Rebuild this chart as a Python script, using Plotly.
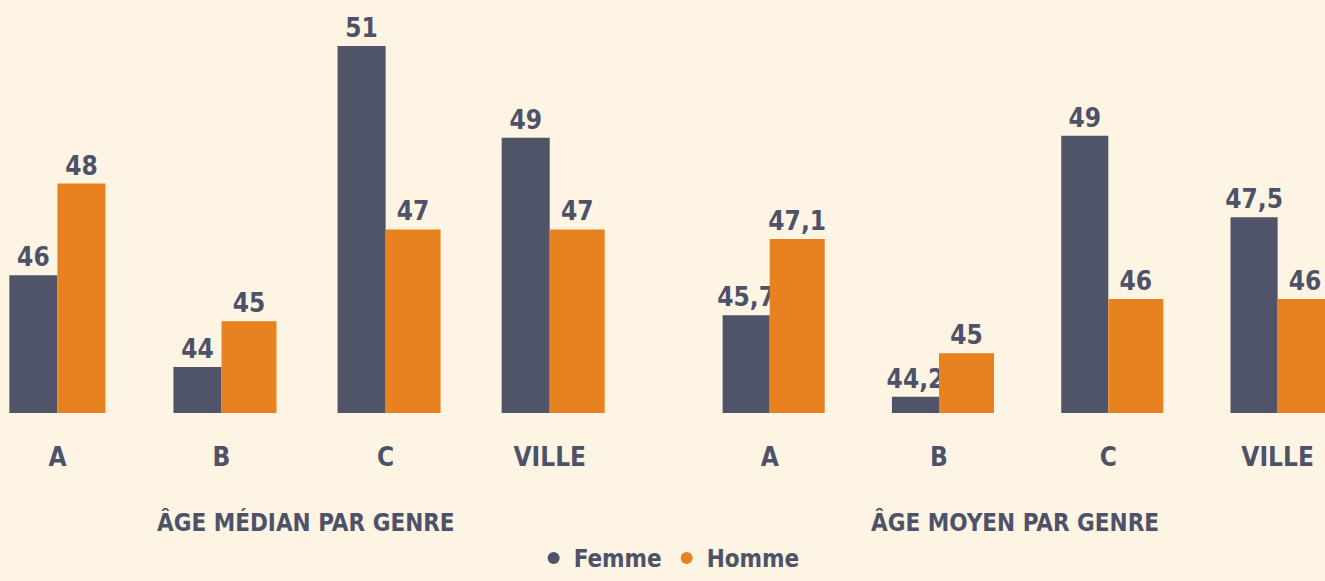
import plotly.graph_objects as go

categories = ["A", "B", "C", "VILLE"]
median_femme = [46, 44, 51, 49]
median_homme = [48, 45, 47, 47]
moyen_femme = [45.7, 44.2, 49, 47.5]
moyen_homme = [47.1, 45, 46, 46]
series_names = ["Femme", "Homme"]
subtitles = ["ÂGE MÉDIAN PAR GENRE", "ÂGE MOYEN PAR GENRE"]

BG = "#fdf4e3"
TXT = "#4d5269"
C_F = "#4f5469"
C_H = "#e8811f"
FONT = "DejaVu Sans Condensed, Liberation Sans Narrow, Arial Narrow, sans-serif"


def fmt(v):
    return f"{v:g}".replace(".", ",")


fig = go.Figure()

label_font = dict(family=FONT, size=26, color=TXT, weight="bold")

# left chart
fig.add_trace(go.Bar(x=categories, y=median_femme, text=[fmt(v) for v in median_femme],
                     marker_color=C_F, marker_line_width=0, offset=-0.293, width=0.293,
                     textposition="outside", textfont=label_font, constraintext="none",
                     cliponaxis=False, showlegend=False, xaxis="x", yaxis="y", hoverinfo="x+y"))
fig.add_trace(go.Bar(x=categories, y=median_homme, text=[fmt(v) for v in median_homme],
                     marker_color=C_H, marker_line_width=0, offset=0, width=[0.293, 0.335, 0.335, 0.335],
                     textposition="outside", textfont=label_font, constraintext="none",
                     cliponaxis=False, showlegend=False, xaxis="x", yaxis="y", hoverinfo="x+y"))
# right chart
fig.add_trace(go.Bar(x=categories, y=moyen_femme, text=[fmt(v) for v in moyen_femme],
                     marker_color=C_F, marker_line_width=0, offset=-0.278, width=0.278,
                     textposition="outside", textfont=label_font, constraintext="none",
                     cliponaxis=False, showlegend=False, xaxis="x2", yaxis="y2", hoverinfo="x+y"))
fig.add_trace(go.Bar(x=categories, y=moyen_homme, text=[fmt(v) for v in moyen_homme],
                     marker_color=C_H, marker_line_width=0, offset=0, width=0.325,
                     textposition="outside", textfont=label_font, constraintext="none",
                     cliponaxis=False, showlegend=False, xaxis="x2", yaxis="y2", hoverinfo="x+y"))

# legend entries (circle symbols)
for name, col in zip(series_names, [C_F, C_H]):
    fig.add_trace(go.Scatter(x=[None], y=[None], mode="markers", name=name,
                             marker=dict(color=col, size=15, symbol="circle"),
                             xaxis="x", yaxis="y"))

tick_font = dict(family=FONT, size=26, color=TXT, weight="bold")
axis_common = dict(type="category", showgrid=False, zeroline=False, showline=False,
                   ticks="", tickfont=tick_font, ticklabelstandoff=26, fixedrange=True)

fig.update_layout(
    width=1325, height=581,
    margin=dict(l=0, r=0, t=0, b=168, autoexpand=False),
    paper_bgcolor=BG, plot_bgcolor=BG,
    barmode="overlay",
    font=dict(family=FONT, color=TXT),
    xaxis=dict(domain=[0, 0.483], range=[-0.35, 3.55], **axis_common),
    xaxis2=dict(domain=[0.5234, 1], range=[-0.45, 3.28], anchor="y2", **axis_common),
    yaxis=dict(range=[43, 52], visible=False, fixedrange=True),
    yaxis2=dict(range=[43.9, 51.5], visible=False, fixedrange=True, anchor="x2"),
    showlegend=True,
    legend=dict(orientation="h", x=0.505, xanchor="center", y=-0.4068, yanchor="bottom",
                font=dict(family=FONT, size=24, color=TXT, weight="bold"),
                bgcolor="rgba(0,0,0,0)", itemsizing="constant", itemwidth=30,
                tracegroupgap=0),
    annotations=[
        dict(text=subtitles[0], x=306 / 1325, y=-0.266, xref="paper", yref="paper",
             xanchor="center", yanchor="middle", showarrow=False,
             font=dict(family=FONT, size=24, color=TXT, weight="bold")),
        dict(text=subtitles[1], x=1015 / 1325, y=-0.266, xref="paper", yref="paper",
             xanchor="center", yanchor="middle", showarrow=False,
             font=dict(family=FONT, size=24, color=TXT, weight="bold")),
    ],
)

fig.write_html("out.html", config={"displayModeBar": False},
               post_script="document.body.style.margin='0';document.body.style.background='" + BG + "';")
